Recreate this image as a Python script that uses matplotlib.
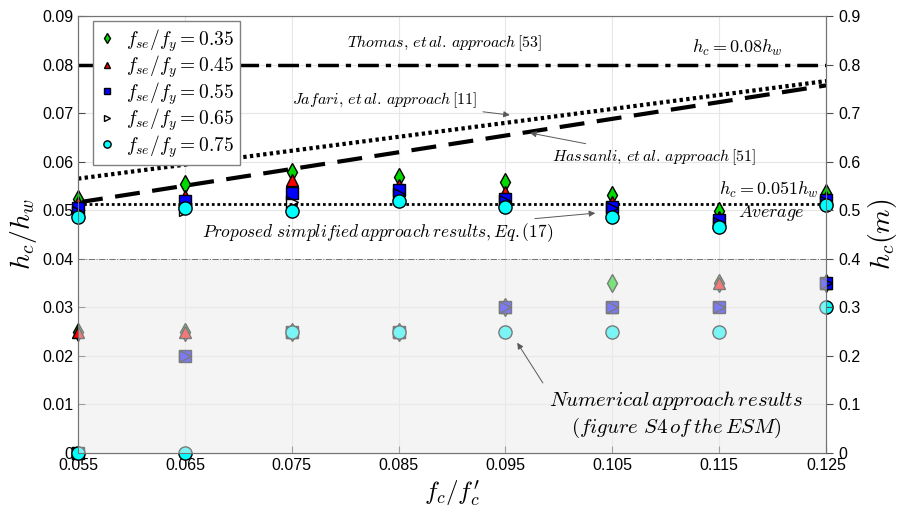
import numpy as np
import matplotlib.pyplot as plt
from matplotlib.patches import Rectangle

plt.rcParams['mathtext.fontset'] = 'cm'
plt.rcParams['font.family'] = ['Liberation Sans', 'DejaVu Sans']

x = [0.055, 0.065, 0.075, 0.085, 0.095, 0.105, 0.115, 0.125]
labels = ['0.35', '0.45', '0.55', '0.65', '0.75']

# proposed simplified approach (upper cluster)
prop_035 = [0.0524, 0.0553, 0.0578, 0.0568, 0.0558, 0.0531, 0.0498, 0.0536]
prop_045 = [0.0517, 0.0530, 0.0562, 0.0552, 0.0538, 0.0517, 0.0487, 0.0527]
prop_055 = [0.0504, 0.0518, 0.0535, 0.0542, 0.0524, 0.0507, 0.0479, 0.0521]
prop_065 = [0.0497, 0.0500, 0.0517, 0.0534, 0.0519, 0.0504, 0.0474, 0.0517]
prop_075 = [0.0486, 0.0505, 0.0498, 0.0518, 0.0507, 0.0487, 0.0465, 0.0510]

# numerical approach (lower cluster)
num_035 = [0.025, 0.025, 0.025, 0.025, 0.030, 0.035, 0.035, 0.035]
num_045 = [0.025, 0.025, 0.025, 0.025, 0.030, 0.030, 0.035, 0.035]
num_055 = [0.0, 0.020, 0.025, 0.025, 0.030, 0.030, 0.030, 0.035]
num_065 = [0.0, 0.020, 0.025, 0.025, 0.030, 0.030, 0.030, 0.035]
num_075 = [0.0, 0.0, 0.025, 0.025, 0.025, 0.025, 0.025, 0.030]

thomas_x = [0.055, 0.125]
thomas_y = [0.08, 0.08]
jafari_x = [0.055, 0.125]
jafari_y = [0.0565, 0.0766]
hassanli_x = [0.055, 0.125]
hassanli_y = [0.0516, 0.0757]
avg_y = 0.0513

prop = [prop_035, prop_045, prop_055, prop_065, prop_075]
num = [num_035, num_045, num_055, num_065, num_075]
markers = ['d', '^', 's', '>', 'o']
faces = [(0, 0.85, 0), 'red', 'blue', 'none', 'cyan']
sizes = [9, 9, 8, 8, 9.5]

fig = plt.figure(figsize=(8.98, 5.15), dpi=100)
ax = fig.add_axes([0.0869, 0.1204, 0.833, 0.8486])

# numerical results, then faded by the grey patch
for i in range(5):
    ax.plot(x, num[i], linestyle='none', marker=markers[i], mfc=faces[i], mec='k',
            ms=sizes[i], mew=1.0, zorder=3, clip_on=False)
ax.add_patch(Rectangle((0.055, 0), 0.07, 0.04, facecolor=(0.92, 0.92, 0.92), alpha=0.52,
                       edgecolor='none', zorder=4))
ax.axhline(0.04, color='0.45', lw=0.7, ls='-.', zorder=5)

ax.plot(thomas_x, thomas_y, color='k', lw=2.5, ls=(0, (6, 2, 1.5, 2)), zorder=5)
ax.plot(jafari_x, jafari_y, color='k', lw=3, ls=(0, (0.8, 0.8)), zorder=5)
ax.plot(hassanli_x, hassanli_y, color='k', lw=3, ls=(0, (6, 3)), zorder=5)
ax.axhline(avg_y, color='k', lw=2, ls=(0, (1, 1)), zorder=5)

for i in range(5):
    ax.plot(x, prop[i], linestyle='none', marker=markers[i], mfc=faces[i], mec='k',
            ms=sizes[i], mew=1.0, zorder=6, clip_on=False,
            label=r'$f_{se}/f_y = ' + labels[i] + '$')

ax.set_xlim(0.055, 0.125)
ax.set_ylim(0, 0.09)
ax.set_xticks(x)
ax.set_xticklabels(['%g' % v for v in x])
yt = np.arange(0, 0.091, 0.01)
ax.set_yticks(yt)
ax.set_yticklabels(['0'] + ['%.2f' % v for v in yt[1:]])
ax.tick_params(labelsize=11.5, direction='in', length=5, color='0.3')
ax.grid(True, color='0.9', lw=0.8)
ax.set_axisbelow(True)
for s in ax.spines.values():
    s.set_color('0.45')

ax.set_xlabel(r'$f_c/f_c^{\prime}$', fontsize=18, labelpad=4)
ax.set_ylabel(r'$h_c/h_w$', fontsize=20, labelpad=2)

ax2 = ax.twinx()
ax2.set_ylim(0, 0.9)
yt2 = np.arange(0, 0.91, 0.1)
ax2.set_yticks(yt2)
ax2.set_yticklabels(['0'] + ['%.1f' % v for v in yt2[1:]])
ax2.tick_params(labelsize=11.5, direction='out', length=5, color='0.3')
for s in ax2.spines.values():
    s.set_color('0.45')
ax2.set_ylabel(r'$h_c(m)$', fontsize=20, labelpad=4)

leg = ax.legend(loc='upper left', bbox_to_anchor=(0.02, 0.988), borderaxespad=0,
                fontsize=14, markerscale=0.55, handlelength=0.8, handletextpad=0.6,
                labelspacing=0.0, borderpad=0.3, fancybox=False, framealpha=1,
                edgecolor='0.5')
leg.set_zorder(10)

fs = 11.5
arr = dict(arrowstyle='-|>', color='0.35', lw=0.7, mutation_scale=9, shrinkA=2, shrinkB=0)
ax.text(0.0893, 0.0844, r'$Thomas,\,et\,al.\,approach\,[53]$', fontsize=fs, ha='center', va='center', zorder=7)
ax.text(0.1209, 0.0834, r'$h_c = 0.08h_w$', fontsize=13, ha='right', va='center', zorder=7)
ax.annotate(r'$Jafari,\,et\,al.\,approach\,[11]$', xy=(0.0954, 0.0696), xytext=(0.0837, 0.0727),
            fontsize=fs, ha='center', va='center', zorder=7, arrowprops=arr)
ax.annotate(r'$Hassanli,\,et\,al.\,approach\,[51]$', xy=(0.0973, 0.0659), xytext=(0.1089, 0.0610),
            fontsize=fs, ha='center', va='center', zorder=7, arrowprops=arr)
ax.text(0.1243, 0.0542, r'$h_c = 0.051h_w$', fontsize=13, ha='right', va='center', zorder=7)
ax.text(0.1199, 0.0494, r'$Average$', fontsize=13, ha='center', va='center', zorder=7)
ax.annotate(r'$Proposed\ simplified\,approach\,results,Eq.(17)$', xy=(0.1034, 0.0494),
            xytext=(0.0830, 0.0453), fontsize=12.5, ha='center', va='center', zorder=7,
            arrowprops=arr)
ax.annotate(r'$Numerical\,approach\,results$', xy=(0.0961, 0.0227),
            xytext=(0.1110, 0.0109), fontsize=15, ha='center', va='center', zorder=7,
            arrowprops=dict(arrowstyle='-|>', color='0.35', lw=0.7, mutation_scale=9, shrinkA=5, shrinkB=0,
                            relpos=(0.0, 0.8)))
ax.text(0.1110, 0.0051, r'$(figure\ S4\,of\,the\,ESM)$', fontsize=15, ha='center', va='center', zorder=7)

fig.savefig('out.png', dpi=100)
